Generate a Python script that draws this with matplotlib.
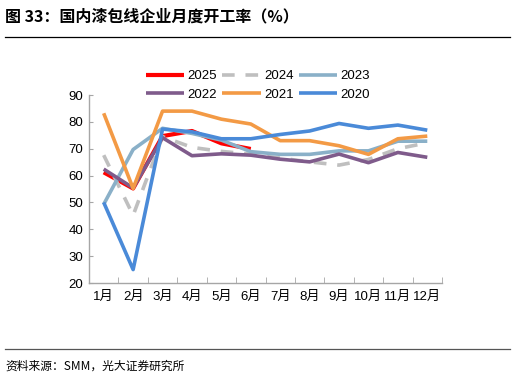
import matplotlib
matplotlib.use("Agg")
import matplotlib.pyplot as plt
from matplotlib.lines import Line2D

plt.rcParams['font.family'] = ['Liberation Sans', 'Noto Sans CJK SC', 'DejaVu Sans']

months = ['1月', '2月', '3月', '4月', '5月', '6月', '7月', '8月', '9月', '10月', '11月', '12月']

y2025 = [61.2, 55.2, 74.7, 76.6, 72.0, 69.9]
y2024 = [67.6, 45.2, 74.5, 70.5, 69.0, 68.0, 66.5, 65.1, 63.9, 66.0, 70.0, 72.2]
y2023 = [49.3, 69.7, 77.6, 75.7, 73.2, 68.9, 67.9, 67.9, 69.2, 69.2, 72.8, 72.8]
y2022 = [62.4, 55.4, 74.1, 67.4, 68.1, 67.6, 66.1, 65.1, 68.0, 64.8, 68.6, 66.8]
y2021 = [83.2, 55.2, 84.0, 84.0, 81.0, 79.2, 73.0, 73.0, 71.1, 67.9, 73.7, 74.7]
y2020 = [50.0, 25.0, 77.3, 76.3, 73.7, 73.7, 75.3, 76.6, 79.4, 77.6, 78.8, 76.9]

series = [
    ('2025', y2025, '#FF0000', '-', 3.0),
    ('2024', y2024, '#BFBFBF', (0, (3.5, 3)), 2.6),
    ('2023', y2023, '#8AB0C8', '-', 2.6),
    ('2022', y2022, '#7F5B8B', '-', 2.6),
    ('2021', y2021, '#F39A45', '-', 2.6),
    ('2020', y2020, '#4A8AD8', '-', 2.6),
]

fig = plt.figure(figsize=(5.15, 3.82), dpi=100)
ax = fig.add_axes([89 / 515, 1 - 283 / 382, (442 - 89) / 515, (283 - 95) / 382])

handles = []
for name, vals, color, ls, lw in series:
    h, = ax.plot(range(len(vals)), vals, color=color, linestyle=ls, linewidth=lw, label=name,
                 solid_capstyle='butt')
    handles.append(h)

ax.set_xlim(-0.5, 11.5)
ax.set_ylim(20, 90)
ax.set_yticks(range(20, 91, 10))
ax.set_xticks(range(12))
ax.set_xticklabels(months)
ax.set_xticks([i + 0.5 for i in range(-1, 12)], minor=True)
ax.tick_params(axis='x', which='major', length=0, labelsize=9.5, pad=6)
ax.tick_params(axis='x', which='minor', direction='in', length=4, color='#A6A6A6')
ax.tick_params(axis='y', direction='in', length=3, color='#A6A6A6', labelsize=9.5, pad=4)

for s in ['top', 'right']:
    ax.spines[s].set_visible(False)
for s in ['left', 'bottom']:
    ax.spines[s].set_color('#A6A6A6')
    ax.spines[s].set_linewidth(1)

# legend fills columns first, so reorder to read row by row
order = [0, 3, 1, 4, 2, 5]
ax.legend([handles[i] for i in order], [series[i][0] for i in order],
          loc='upper left', bbox_to_anchor=(146 / 515, 1 - 70 / 382), bbox_transform=fig.transFigure,
          ncol=3, frameon=False, fontsize=9.5, handlelength=2.9, handletextpad=0.25,
          columnspacing=0.4, labelspacing=0.5, borderaxespad=0, borderpad=0)

fig.text(5 / 515, 1 - 16 / 382, '图 33：国内漆包线企业月度开工率（%）', fontsize=11.5,
         fontweight='bold', family=['Noto Sans CJK SC', 'DejaVu Sans'], va='center', ha='left')
fig.add_artist(Line2D([5 / 515, 510 / 515], [1 - 37 / 382, 1 - 37 / 382], color='black', linewidth=0.9))
fig.add_artist(Line2D([5 / 515, 510 / 515], [1 - 349 / 382, 1 - 349 / 382], color='#555555', linewidth=0.9))
fig.text(5 / 515, 1 - 366 / 382, '资料来源：SMM，光大证券研究所', fontsize=8.5,
         family=['Noto Sans CJK SC', 'DejaVu Sans'], va='center', ha='left')

fig.savefig('out.png', dpi=100)
